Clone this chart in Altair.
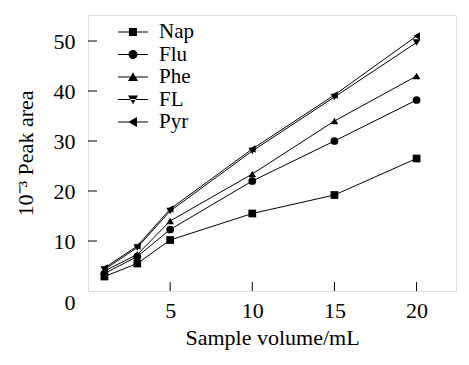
import altair as alt
import pandas as pd

volumes = [1, 3, 5, 10, 15, 20]
series = ["Nap", "Flu", "Phe", "FL", "Pyr"]
nap = [2.9, 5.5, 10.2, 15.5, 19.2, 26.5]
flu = [3.5, 6.9, 12.3, 22.0, 30.0, 38.2]
phe = [4.0, 7.3, 14.0, 23.4, 34.0, 43.0]
fl = [4.3, 8.7, 16.0, 28.0, 38.8, 49.7]
pyr = [4.6, 9.0, 16.4, 28.4, 39.2, 51.0]
x_ticks = [5, 10, 15, 20]
y_ticks = [0, 10, 20, 30, 40, 50]

shapes = ["square", "circle", "triangle-up", "triangle-down", "triangle-left"]
BAR = "M-1.5,-0.05H1.5V0.05H-1.5Z"
legend_paths = [
    BAR + "M-0.4,-0.4H0.4V0.4H-0.4Z",
    BAR + "M0.45,0A0.45,0.45 0 1,1 -0.45,0A0.45,0.45 0 1,1 0.45,0Z",
    BAR + "M0,-0.48L0.5,0.4L-0.5,0.4Z",
    BAR + "M0,0.48L0.5,-0.4L-0.5,-0.4Z",
    BAR + "M-0.48,0L0.4,-0.5L0.4,0.5Z",
]

rows = []
for name, vals in zip(series, [nap, flu, phe, fl, pyr]):
    for v, a in zip(volumes, vals):
        rows.append({"series": name, "volume": v, "area": a})
df = pd.DataFrame(rows)
xt = pd.DataFrame({"volume": x_ticks})
yt = pd.DataFrame({"area": y_ticks[1:]})

FONT = "Liberation Serif"
W, H = 368, 276
TICK = 9
xscale = alt.Scale(domain=[0, 22.4], nice=False, zero=False)
yscale = alt.Scale(domain=[0, 55.2], nice=False, zero=False)

x_axis = alt.Axis(values=x_ticks, title="Sample volume/mL", grid=False, domain=False,
                  ticks=False, tickSize=0, labelPadding=9, labelFont=FONT,
                  labelFontSize=22, titleFont=FONT, titleFontSize=22,
                  titleFontWeight="normal", titlePadding=6, labelColor="black",
                  titleColor="black")
y_axis = alt.Axis(values=y_ticks, title="10⁻³ Peak area", grid=False, domain=False,
                  ticks=False, tickSize=0, labelPadding=13, labelFont=FONT,
                  labelFontSize=22, titleFont=FONT, titleFontSize=22,
                  titleFontWeight="normal", titlePadding=16, labelColor="black",
                  titleColor="black",
                  labelOffset={"condition": {"test": "datum.value == 0", "value": 11}, "value": 0})


def X():
    return alt.X("volume:Q", scale=xscale, axis=x_axis)


def Y():
    return alt.Y("area:Q", scale=yscale, axis=y_axis)


lines = alt.Chart(df).mark_line(color="black", strokeWidth=1).encode(
    x=X(), y=Y(), detail="series:N")
points = alt.Chart(df).mark_point(filled=True, color="black", size=60, opacity=1).encode(
    x=X(), y=Y(),
    shape=alt.Shape("series:N", scale=alt.Scale(domain=series, range=shapes), legend=None))

xticks_layer = alt.Chart(xt).mark_rule(color="black", strokeWidth=1).encode(
    x=X(), y=alt.value(H), y2=alt.value(H - TICK))
yticks_layer = alt.Chart(yt).mark_rule(color="black", strokeWidth=1).encode(
    y=Y(), x=alt.value(0), x2=alt.value(TICK))

legend_layer = alt.Chart(df).transform_filter("false").mark_point(
    filled=True, color="black", opacity=1).encode(
    x=X(), y=Y(),
    shape=alt.Shape("series:N", scale=alt.Scale(domain=series, range=legend_paths),
                    legend=alt.Legend(title=None, orient="none", legendX=34, legendY=6,
                                      symbolSize=400, symbolFillColor="black",
                                      symbolOpacity=1, labelFont=FONT, labelFontSize=21,
                                      labelColor="black", labelOffset=15, rowPadding=1.5)))

chart = alt.layer(lines, points, xticks_layer, yticks_layer, legend_layer).resolve_scale(
    shape="independent").properties(
    width=W, height=H,
    autosize=alt.AutoSizeParams(type="none"),
    padding={"left": 80, "top": 7, "right": 5, "bottom": 66},
).configure_view(stroke="#222", strokeWidth=1.5).configure(background="white")

chart.save("out.html", embed_options={"renderer": "svg", "actions": False})
